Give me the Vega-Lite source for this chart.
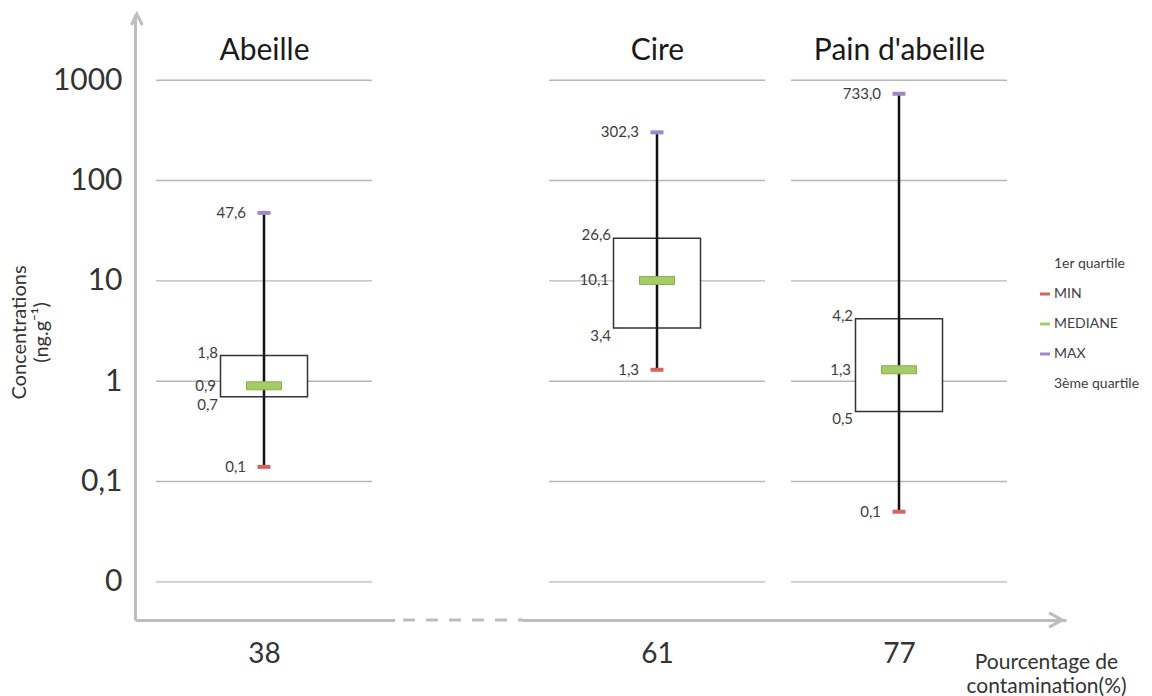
{
  "$schema": "https://vega.github.io/schema/vega-lite/v6.json",
  "width": 931,
  "height": 606,
  "autosize": {"type": "none"},
  "padding": {"left": 135, "top": 14, "right": 86, "bottom": 76},
  "background": "white",
  "config": {
    "view": {"stroke": null},
    "font": "Lato",
    "locale": {"number": {"decimal": ",", "thousands": " ", "grouping": [3], "currency": ["", " €"]}}
  },
  "datasets": {
    "stats": [
      {"matrice": "Abeille", "contamination": 38, "MIN": 0.14, "Q1": 0.7, "MEDIANE": 0.9, "Q3": 1.8, "MAX": 47.6},
      {"matrice": "Cire", "contamination": 61, "MIN": 1.3, "Q1": 3.4, "MEDIANE": 10.1, "Q3": 26.6, "MAX": 302.3},
      {"matrice": "Pain d'abeille", "contamination": 77, "MIN": 0.05, "Q1": 0.5, "MEDIANE": 1.3, "Q3": 4.2, "MAX": 733.0}
    ],
    "grille": [
      {"contamination": 38, "graduation": 0.01}, {"contamination": 38, "graduation": 0.1}, {"contamination": 38, "graduation": 1},
      {"contamination": 38, "graduation": 10}, {"contamination": 38, "graduation": 100}, {"contamination": 38, "graduation": 1000},
      {"contamination": 61, "graduation": 0.01}, {"contamination": 61, "graduation": 0.1}, {"contamination": 61, "graduation": 1},
      {"contamination": 61, "graduation": 10}, {"contamination": 61, "graduation": 100}, {"contamination": 61, "graduation": 1000},
      {"contamination": 77, "graduation": 0.01}, {"contamination": 77, "graduation": 0.1}, {"contamination": 77, "graduation": 1},
      {"contamination": 77, "graduation": 10}, {"contamination": 77, "graduation": 100}, {"contamination": 77, "graduation": 1000}
    ],
    "repere": [{"element": "axes"}]
  },
  "resolve": {"axis": {"x": "independent", "y": "independent"}},
  "layer": [
    {
      "data": {"name": "grille"},
      "mark": {"type": "tick", "orient": "horizontal", "size": 216, "thickness": 1.4, "color": "#b8b8b8", "opacity": 1},
      "encoding": {
        "x": {
          "field": "contamination", "type": "quantitative",
          "scale": {"type": "linear", "domain": [0, 38, 61, 77, 100], "range": [0, 129, 522, 764, 931], "nice": false, "zero": false},
          "axis": {
            "orient": "bottom", "values": [38, 61, 77], "format": "d", "grid": false, "ticks": false,
            "domain": true, "domainColor": "#bdbdbd", "domainWidth": 3,
            "labelFontSize": 28, "labelColor": "#333333", "labelPadding": 34, "labelBaseline": "middle",
            "labelFlush": false, "labelOverlap": false,
            "title": ["Pourcentage de", "contamination(%)"], "titleFontSize": 21, "titleFontWeight": "normal",
            "titleColor": "#333333", "titleX": 911, "titleY": 31, "titleAlign": "center", "titleBaseline": "top",
            "titleLineHeight": 24
          }
        },
        "y": {
          "field": "graduation", "type": "quantitative",
          "scale": {"type": "log", "domain": [0.0041687, 4570.88], "nice": false},
          "axis": {
            "orient": "left",
            "values": [0.01, 0.1, 1, 10, 100, 1000],
            "labelExpr": "datum.value < 0.05 ? '0' : datum.value < 0.5 ? '0,1' : format(datum.value, '.0f')",
            "grid": false, "ticks": false, "domain": true, "domainColor": "#bdbdbd", "domainWidth": 3,
            "labelPadding": 13, "labelFontSize": 30, "labelColor": "#333333", "labelBaseline": "middle",
            "labelFlush": false, "labelOverlap": false,
            "title": ["Concentrations", "(ng.g⁻¹)"], "titleFontSize": 20, "titleFontWeight": "normal",
            "titleColor": "#333333", "titleX": -116, "titleY": 318, "titleAngle": -90, "titleAlign": "center",
            "titleBaseline": "middle", "titleLineHeight": 22
          }
        }
      }
    },
    {
      "data": {"name": "repere"},
      "mark": {"type": "rule", "color": "white", "strokeWidth": 6},
      "encoding": {
        "x": {"datum": 45.67, "type": "quantitative", "axis": null},
        "x2": {"datum": 53.16},
        "y": {"datum": 0.0041687, "type": "quantitative", "axis": null}
      }
    },
    {
      "data": {"name": "repere"},
      "mark": {"type": "rule", "color": "#bdbdbd", "strokeWidth": 3, "strokeDash": [12, 11], "strokeDashOffset": 15},
      "encoding": {
        "x": {"datum": 45.67, "type": "quantitative", "axis": null},
        "x2": {"datum": 53.16},
        "y": {"datum": 0.0041687, "type": "quantitative", "axis": null}
      }
    },
    {
      "data": {"name": "repere"},
      "mark": {"type": "point", "shape": "M-0.5,1L0,0L0.5,1", "size": 484, "filled": false, "stroke": "#bdbdbd", "strokeWidth": 3, "opacity": 1},
      "encoding": {
        "x": {"datum": 0, "type": "quantitative", "axis": null},
        "y": {"datum": 4570.88, "type": "quantitative", "axis": null}
      }
    },
    {
      "data": {"name": "repere"},
      "mark": {"type": "point", "shape": "M-1,-0.55L0,0L-1,0.55", "size": 676, "filled": false, "stroke": "#bdbdbd", "strokeWidth": 3, "opacity": 1},
      "encoding": {
        "x": {"datum": 100, "type": "quantitative", "axis": null},
        "y": {"datum": 0.0041687, "type": "quantitative", "axis": null}
      }
    },
    {
      "data": {"name": "stats"},
      "mark": {"type": "bar", "width": 87, "fill": "white", "stroke": "#333333", "strokeWidth": 1.5},
      "encoding": {
        "x": {"field": "contamination", "type": "quantitative", "axis": null},
        "y": {"field": "Q1", "type": "quantitative", "axis": null},
        "y2": {"field": "Q3"}
      }
    },
    {
      "data": {"name": "stats"},
      "mark": {"type": "rule", "color": "#111111", "strokeWidth": 2.5},
      "encoding": {
        "x": {
          "field": "contamination", "type": "quantitative",
          "axis": {
            "orient": "top", "values": [38, 61, 77],
            "labelExpr": "datum.value == 38 ? 'Abeille' : datum.value == 61 ? 'Cire' : \"Pain d'abeille\"",
            "domain": false, "ticks": false, "tickSize": 0, "grid": false, "offset": -45, "labelPadding": 0,
            "labelBaseline": "alphabetic", "labelFontSize": 30, "labelColor": "#1a1a1a",
            "labelFlush": false, "labelOverlap": false, "title": null
          }
        },
        "y": {"field": "MIN", "type": "quantitative", "axis": null},
        "y2": {"field": "MAX"}
      }
    },
    {
      "data": {"name": "stats"},
      "transform": [
        {"fold": ["Q1", "MIN", "MEDIANE", "MAX", "Q3"], "as": ["statistique", "valeur"]},
        {"filter": "datum.statistique == 'MEDIANE'"}
      ],
      "mark": {"type": "tick", "orient": "horizontal", "size": 35, "thickness": 8, "stroke": "#8aae50", "strokeWidth": 1, "opacity": 1},
      "encoding": {
        "x": {"field": "contamination", "type": "quantitative", "axis": null},
        "y": {"field": "valeur", "type": "quantitative", "axis": null},
        "color": {
          "field": "statistique", "type": "nominal",
          "scale": {"domain": ["Q1", "MIN", "MEDIANE", "MAX", "Q3"], "range": ["rgba(0,0,0,0)", "#d9625d", "#a6cc68", "#9c88c8", "rgba(0,0,0,0)"]},
          "legend": {
            "orient": "none", "legendX": 903, "legendY": 243, "title": null,
            "symbolType": "M-1,-0.3H1V0.3H-1Z", "symbolSize": 100, "symbolStrokeWidth": 0,
            "labelFontSize": 14, "labelColor": "#404040", "rowPadding": 16, "labelOffset": 2, "padding": 0,
            "labelExpr": "datum.label == 'Q1' ? '1er quartile' : datum.label == 'Q3' ? '3ème quartile' : datum.label"
          }
        }
      }
    },
    {
      "data": {"name": "stats"},
      "transform": [
        {"fold": ["Q1", "MIN", "MEDIANE", "MAX", "Q3"], "as": ["statistique", "valeur"]},
        {"filter": "datum.statistique == 'MIN' || datum.statistique == 'MAX'"}
      ],
      "mark": {"type": "tick", "orient": "horizontal", "size": 13, "thickness": 4, "opacity": 1},
      "encoding": {
        "x": {"field": "contamination", "type": "quantitative", "axis": null},
        "y": {"field": "valeur", "type": "quantitative", "axis": null},
        "color": {
          "field": "statistique", "type": "nominal",
          "legend": {
            "orient": "none", "legendX": 903, "legendY": 243, "title": null,
            "symbolType": "M-1,-0.3H1V0.3H-1Z", "symbolSize": 100, "symbolStrokeWidth": 0,
            "labelFontSize": 14, "labelColor": "#404040", "rowPadding": 16, "labelOffset": 2, "padding": 0,
            "labelExpr": "datum.label == 'Q1' ? '1er quartile' : datum.label == 'Q3' ? '3ème quartile' : datum.label"
          }
        }
      }
    },
    {
      "data": {"name": "stats"},
      "transform": [
        {"fold": ["Q1", "MIN", "MEDIANE", "MAX", "Q3"], "as": ["statistique", "valeur"]},
        {"filter": "datum.statistique == 'MIN' || datum.statistique == 'MAX'"}
      ],
      "mark": {"type": "text", "align": "right", "baseline": "middle", "dx": -18, "fontSize": 15, "color": "#3d3d3d"},
      "encoding": {
        "x": {"field": "contamination", "type": "quantitative", "axis": null},
        "y": {"field": "valeur", "type": "quantitative", "axis": null},
        "text": {"field": "valeur", "type": "quantitative", "format": ".1f"}
      }
    },
    {
      "data": {"name": "stats"},
      "transform": [
        {"fold": ["Q1", "MIN", "MEDIANE", "MAX", "Q3"], "as": ["statistique", "valeur"]},
        {"filter": "datum.statistique == 'MEDIANE'"}
      ],
      "mark": {"type": "text", "align": "right", "baseline": "middle", "dx": -48, "dy": 0, "fontSize": 15, "color": "#3d3d3d"},
      "encoding": {
        "x": {"field": "contamination", "type": "quantitative", "axis": null},
        "y": {"field": "valeur", "type": "quantitative", "axis": null},
        "text": {"field": "valeur", "type": "quantitative", "format": ".1f"}
      }
    },
    {
      "data": {"name": "stats"},
      "transform": [
        {"fold": ["Q1", "MIN", "MEDIANE", "MAX", "Q3"], "as": ["statistique", "valeur"]},
        {"filter": "datum.statistique == 'Q3'"}
      ],
      "mark": {"type": "text", "align": "right", "baseline": "middle", "dx": -46, "dy": -3, "fontSize": 15, "color": "#3d3d3d"},
      "encoding": {
        "x": {"field": "contamination", "type": "quantitative", "axis": null},
        "y": {"field": "valeur", "type": "quantitative", "axis": null},
        "text": {"field": "valeur", "type": "quantitative", "format": ".1f"}
      }
    },
    {
      "data": {"name": "stats"},
      "transform": [
        {"fold": ["Q1", "MIN", "MEDIANE", "MAX", "Q3"], "as": ["statistique", "valeur"]},
        {"filter": "datum.statistique == 'Q1'"}
      ],
      "mark": {"type": "text", "align": "right", "baseline": "middle", "dx": -46, "dy": 8, "fontSize": 15, "color": "#3d3d3d"},
      "encoding": {
        "x": {"field": "contamination", "type": "quantitative", "axis": null},
        "y": {"field": "valeur", "type": "quantitative", "axis": null},
        "text": {"field": "valeur", "type": "quantitative", "format": ".1f"}
      }
    }
  ]
}
